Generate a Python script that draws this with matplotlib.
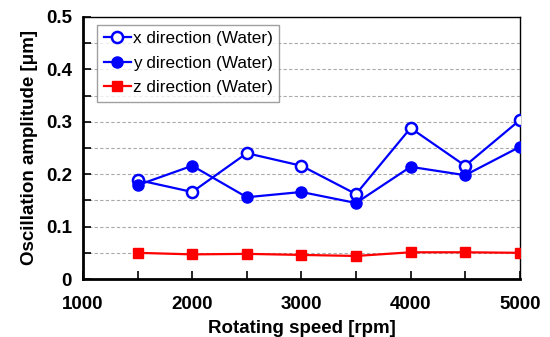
import matplotlib
matplotlib.use('Agg')
import matplotlib.pyplot as plt
from matplotlib.ticker import MultipleLocator

plt.rcParams['font.family'] = ['Liberation Sans', 'DejaVu Sans']

speed = [1500, 2000, 2500, 3000, 3500, 4000, 4500, 5000]
amp_x = [0.189, 0.166, 0.240, 0.216, 0.162, 0.288, 0.216, 0.303]
amp_y = [0.179, 0.216, 0.156, 0.166, 0.145, 0.214, 0.198, 0.252]
amp_z = [0.050, 0.047, 0.048, 0.046, 0.044, 0.051, 0.051, 0.050]

labels = ['x direction (Water)', 'y direction (Water)', 'z direction (Water)']

fig = plt.figure(figsize=(5.5, 3.37), dpi=100)
ax = fig.add_axes([0.151, 0.172, 0.794, 0.778])

ax.plot(speed, amp_x, '-o', color='blue', mfc='white', mec='blue', mew=1.8,
        ms=8, lw=1.6, label=labels[0], zorder=3)
ax.plot(speed, amp_y, '-o', color='blue', ms=8, lw=1.6, label=labels[1], zorder=3)
ax.plot(speed, amp_z, '-s', color='red', ms=7.5, lw=1.6, label=labels[2], zorder=3)

ax.set_xlim(1000, 5000)
ax.set_ylim(0, 0.5)
ax.xaxis.set_major_locator(MultipleLocator(1000))
ax.xaxis.set_minor_locator(MultipleLocator(500))
ax.yaxis.set_minor_locator(MultipleLocator(0.05))
ax.set_yticks([0, 0.1, 0.2, 0.3, 0.4, 0.5])
ax.set_yticklabels(['0', '0.1', '0.2', '0.3', '0.4', '0.5'])

ax.grid(True, which='both', axis='y', color='#aaaaaa', ls=(0, (3, 2)), lw=0.8)
ax.set_axisbelow(True)

ax.tick_params(which='both', direction='in', labelsize=13.5, width=1.2)
ax.tick_params(axis='x', which='major', length=6, pad=12)
ax.tick_params(axis='y', which='major', length=6, pad=8)
ax.tick_params(which='minor', length=6)
for lab in ax.get_xticklabels() + ax.get_yticklabels():
    lab.set_fontweight('bold')

for side in ['left', 'bottom']:
    ax.spines[side].set_linewidth(2)
for side in ['top', 'right']:
    ax.spines[side].set_linewidth(1)

ax.set_xlabel('Rotating speed [rpm]', fontsize=13.5, fontweight='bold', labelpad=5)
ax.set_ylabel('Oscillation amplitude [\u03bcm]', fontsize=13.5, fontweight='bold', labelpad=6)

leg = ax.legend(loc='upper left', bbox_to_anchor=(0.02, 0.99), fontsize=12.3,
                frameon=True, fancybox=False, edgecolor='#888888',
                handlelength=1.6, handletextpad=0.1, borderpad=0.4,
                labelspacing=0.55, borderaxespad=0.3)
leg.get_frame().set_linewidth(1)

fig.savefig('out.png', dpi=100)
